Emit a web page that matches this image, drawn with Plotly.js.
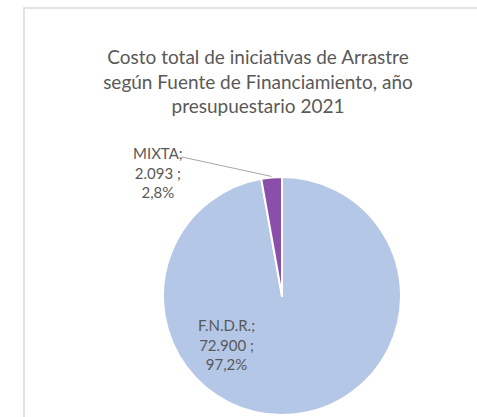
<!DOCTYPE html>
<html>
<head>
<meta charset="utf-8">
<script src="https://cdn.plot.ly/plotly-3.0.1.min.js"></script>
<style>html,body{margin:0;padding:0;background:#fff;}#chart{width:477px;height:417px;}</style>
</head>
<body>
<div id="chart"></div>
<script>
// Data
const categories = ['F.N.D.R.', 'MIXTA'];
const values = [72900, 2093];
const sliceColors = ['#B4C7E7', '#8A50A9'];
const titleLines = ['Costo total de iniciativas de Arrastre', 'según Fuente de Financiamiento, año', 'presupuestario 2021'];

const W = 477, H = 417;
const cx = 282, cy = 296, R = 119;
const textColor = '#595959';
const fontFam = 'Lato, "Open Sans", sans-serif';

const total = values.reduce((a, b) => a + b, 0);
function fmtThousands(v) {
  return String(v).replace(/\B(?=(\d{3})+(?!\d))/g, '.');
}
function fmtPct(v) {
  return (v / total * 100).toFixed(1).replace('.', ',') + '%';
}
const labelTexts = categories.map((c, i) => c + ';<br>' + fmtThousands(values[i]) + ' ;<br>' + fmtPct(values[i]));

const px = x => x / W;
const py = y => 1 - y / H;

// Mid angle of MIXTA slice (clockwise from top)
const startFrac = values[0] / total;
const midFrac = startFrac + (values[1] / total) / 2;
const ang = midFrac * 2 * Math.PI;
const edgeX = cx + R * Math.sin(ang);
const edgeY = cy - R * Math.cos(ang);

const trace = {
  type: 'pie',
  labels: categories,
  values: values,
  sort: false,
  direction: 'clockwise',
  rotation: 0,
  textinfo: 'none',
  hoverinfo: 'label+value+percent',
  marker: { colors: sliceColors, line: { color: '#ffffff', width: 2 } },
  domain: { x: [px(cx - R), px(cx + R)], y: [py(cy + R), py(cy - R)] },
  showlegend: false
};

const layout = {
  width: W, height: H,
  margin: { l: 0, r: 0, t: 0, b: 0 },
  paper_bgcolor: '#ffffff',
  separators: ',.',
  title: {
    text: titleLines.join('<br>'),
    font: { family: fontFam, size: 19, color: textColor },
    x: px(258), xref: 'paper', xanchor: 'center',
    y: py(64), yref: 'paper', yanchor: 'middle'
  },
  shapes: [
    { type: 'rect', xref: 'paper', yref: 'paper', x0: px(24), x1: px(520), y0: py(460), y1: py(8),
      line: { color: '#D9D9D9', width: 1.5 }, fillcolor: 'rgba(0,0,0,0)' },
    { type: 'line', xref: 'paper', yref: 'paper', x0: px(182), y0: py(157), x1: px(edgeX), y1: py(edgeY - 1),
      line: { color: '#A6A6A6', width: 1 } }
  ],
  annotations: [
    { text: labelTexts[1], xref: 'paper', yref: 'paper', x: px(158), y: py(172), xanchor: 'center', yanchor: 'middle',
      showarrow: false, align: 'center', font: { family: fontFam, size: 15, color: textColor } },
    { text: labelTexts[0], xref: 'paper', yref: 'paper', x: px(226), y: py(344), xanchor: 'center', yanchor: 'middle',
      showarrow: false, align: 'center', font: { family: fontFam, size: 15, color: textColor } }
  ]
};

Plotly.newPlot('chart', [trace], layout, { displayModeBar: false, staticPlot: true });
</script>
</body>
</html>
